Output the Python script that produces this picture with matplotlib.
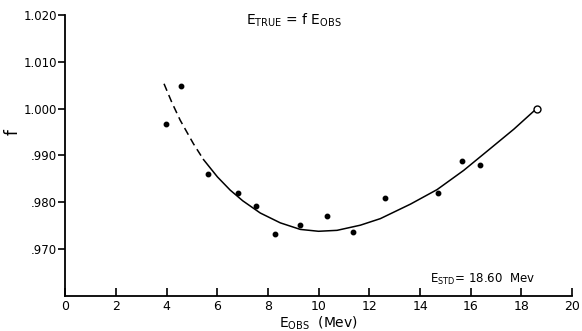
import numpy as np
import matplotlib
matplotlib.use("Agg")
import matplotlib.pyplot as plt

plt.rcParams['font.family'] = ['DejaVu Sans']
plt.rcParams['mathtext.default'] = 'regular'

# measured points
e_obs = [3.95, 4.58, 5.64, 6.83, 7.53, 8.29, 9.26, 10.32, 11.34, 12.62, 14.70, 15.67, 16.37]
f_obs = [0.9968, 1.0048, 0.9860, 0.9820, 0.9792, 0.9733, 0.9752, 0.9771, 0.9737, 0.9810, 0.9820, 0.9889, 0.9879]

# standard point
e_std = [18.60]
f_std = [1.0000]

# hand-drawn fit: extrapolated part (dashed) and fitted part (solid)
fit_dash_x = [3.89, 4.20, 4.53, 5.05, 5.45]
fit_dash_y = [1.0053, 1.0013, 0.9975, 0.9925, 0.9891]
fit_x = [5.45, 6.00, 6.50, 7.00, 7.69, 8.48, 9.27, 9.99, 10.72, 11.64, 12.43, 13.62, 14.67, 15.72, 16.78, 17.70, 18.60]
fit_y = [0.9891, 0.9854, 0.9826, 0.9803, 0.9777, 0.9756, 0.9742, 0.9738, 0.9740, 0.9751, 0.9765, 0.9796, 0.9827, 0.9868, 0.9915, 0.9956, 1.0000]

x_ticks = [0, 2, 4, 6, 8, 10, 12, 14, 16, 18, 20]
y_ticks = [0.970, 0.980, 0.990, 1.000, 1.010, 1.020]
y_labels = ['.970', '.980', '.990', '1.000', '1.010', '1.020']

fig = plt.figure(figsize=(5.82, 3.31), dpi=100)
ax = fig.add_axes([0.1125, 0.106, 0.8705, 0.849])

ax.plot(fit_dash_x, fit_dash_y, color='black', lw=1.1, linestyle=(0, (5, 3)))
ax.plot(fit_x, fit_y, color='black', lw=1.1)
ax.plot(e_obs, f_obs, 'o', color='black', markersize=3.2)
ax.plot(e_std, f_std, 'o', markerfacecolor='white', markeredgecolor='black',
        markersize=5, markeredgewidth=1.0)

ax.set_xlim(0, 20)
ax.set_ylim(0.960, 1.020)
ax.set_xticks(x_ticks)
ax.set_yticks(y_ticks)
ax.set_yticklabels(y_labels)

for s in ['top', 'right']:
    ax.spines[s].set_visible(False)
for s in ['left', 'bottom']:
    ax.spines[s].set_linewidth(1.3)

ax.tick_params(axis='x', direction='in', length=6, width=1.2, labelsize=9, pad=3)
ax.tick_params(axis='y', direction='out', length=5, width=1.2, labelsize=8.5, pad=1)

ax.set_xlabel('$E_{OBS}$  (Mev)', fontsize=10, labelpad=1)
ax.set_ylabel('f', fontsize=12)
ax.yaxis.set_label_coords(-0.086, 0.584)

ax.text(9.0, 1.0189, '$E_{TRUE}$ = f $E_{OBS}$', fontsize=10, ha='center', va='center')
ax.text(16.45, 0.9636, '$E_{STD}$= 18.60  Mev', fontsize=8.5, ha='center', va='center')

fig.savefig('out.png', dpi=100)
